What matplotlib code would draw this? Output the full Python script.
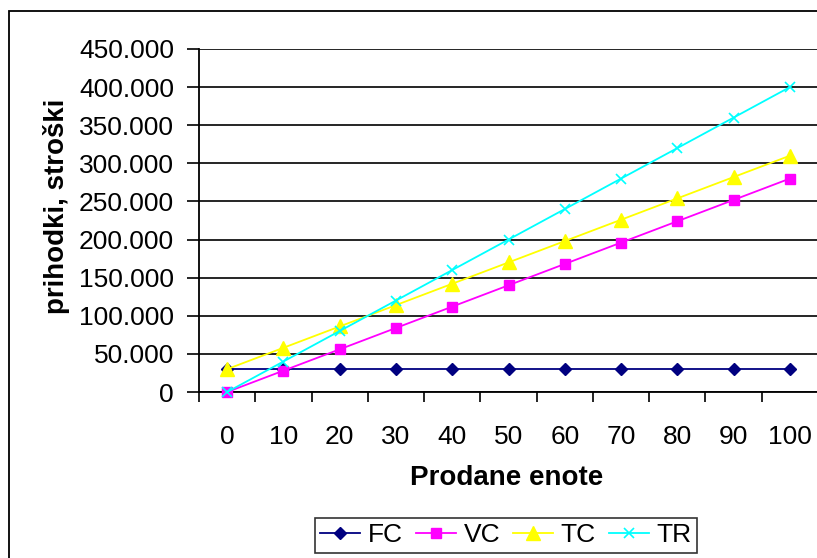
import matplotlib
matplotlib.use("Agg")
import matplotlib.pyplot as plt
from matplotlib.patches import Rectangle
from matplotlib.ticker import FuncFormatter, FixedLocator
import numpy as np

plt.rcParams['font.family'] = ['Liberation Sans', 'DejaVu Sans']

units = [0, 10, 20, 30, 40, 50, 60, 70, 80, 90, 100]
fc = [30000] * 11
vc = [0, 28000, 56000, 84000, 112000, 140000, 168000, 196000, 224000, 252000, 280000]
tc = [30000, 58000, 86000, 114000, 142000, 170000, 198000, 226000, 254000, 282000, 310000]
tr = [0, 40000, 80000, 120000, 160000, 200000, 240000, 280000, 320000, 360000, 400000]
series_names = ["FC", "VC", "TC", "TR"]
y_ticks = [0, 50000, 100000, 150000, 200000, 250000, 300000, 350000, 400000, 450000]

W, H = 817, 558
fig = plt.figure(figsize=(W / 100, H / 100), dpi=100)
fig.patch.set_facecolor("white")

# outer chart border
fig.patches.append(Rectangle((9 / W, -0.1), 1.2, 1 - 11 / H + 0.1, transform=fig.transFigure,
                             fill=False, edgecolor="black", linewidth=1.3))

left, right, top, bottom = 199, 818, 49, 392
ax = fig.add_axes([left / W, 1 - bottom / H, (right - left) / W, (bottom - top) / H])
ax.set_facecolor("white")

x = np.arange(len(units))
styles = [
    dict(color="#000080", marker="D", markersize=6),
    dict(color="#FF00FF", marker="s", markersize=7),
    dict(color="#FFFF00", marker="^", markersize=10),
    dict(color="#00FFFF", marker="x", markersize=7, markeredgewidth=1.2),
]
for vals, name, st in zip([fc, vc, tc, tr], series_names, styles):
    ax.plot(x, vals, linewidth=1.3, label=name, clip_on=False, zorder=3, **st)

ax.set_xlim(-0.5, len(units) - 0.5)
ax.set_ylim(0, 450000)
ax.set_yticks(y_ticks)
ax.yaxis.set_major_formatter(FuncFormatter(lambda v, p: "0" if v == 0 else f"{int(v):,}".replace(",", ".")))
ax.grid(axis="y", color="black", linewidth=1.2, zorder=1)
ax.set_axisbelow(True)

ax.set_xticks(x)
ax.set_xticklabels([str(u) for u in units])
ax.xaxis.set_minor_locator(FixedLocator(np.arange(-0.5, len(units), 1.0)))
ax.tick_params(axis="x", which="major", length=0, pad=24, labelsize=19)
ax.tick_params(axis="x", which="minor", length=7, width=1.2, direction="out", color="black")
ax.tick_params(axis="y", which="major", length=9, width=1.2, direction="out", pad=9, labelsize=19)

for s in ["top", "right"]:
    ax.spines[s].set_visible(False)
for s in ["left", "bottom"]:
    ax.spines[s].set_linewidth(1.3)
    ax.spines[s].set_color("black")

ax.set_ylabel("prihodki, stroški", fontsize=20, fontweight="bold")
ax.yaxis.set_label_coords((57 - left) / (right - left), 0.54)
ax.set_xlabel("Prodane enote", fontsize=20, fontweight="bold")
ax.xaxis.set_label_coords(0.4976, (bottom - 478) / (bottom - top))
ax.xaxis.label.set_va("center")
ax.yaxis.label.set_va("center")

leg = fig.legend(loc="upper center", bbox_to_anchor=(506 / W, 1 - 518 / H), ncol=4,
                 fontsize=19, frameon=True, fancybox=False, edgecolor="black",
                 handlelength=1.5, handletextpad=0.3, columnspacing=0.5, borderpad=0.2,
                 borderaxespad=0)
leg.get_frame().set_linewidth(1.2)

fig.savefig("out.png", dpi=100, facecolor="white")
